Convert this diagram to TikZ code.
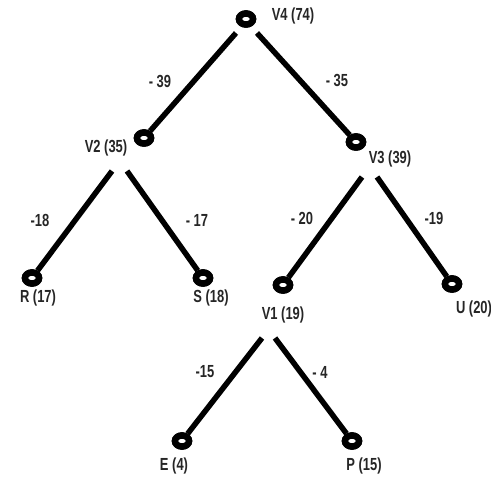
\documentclass[tikz,border=0pt]{standalone}
\usepackage{fontspec}
\setmainfont{Liberation Sans}[FakeStretch=0.74]
\usetikzlibrary{shapes.geometric}
\begin{document}
\begin{tikzpicture}[x=1pt,y=-1pt,
  vert/.style={ellipse,draw=black,line width=6.5pt,fill=white,minimum width=14pt,minimum height=11pt,inner sep=0pt},
  lbl/.style={font=\fontsize{17.5}{19}\selectfont\bfseries,text=black!85,inner sep=0pt},
  edge/.style={line width=5.5pt,black}]
\useasboundingbox (0,0) rectangle (491,484);
% vertices
\node[vert] (V4) at (246,19) {};
\node[vert] (V2) at (144,138) {};
\node[vert] (V3) at (356,142) {};
\node[vert] (R) at (32,278) {};
\node[vert] (S) at (203,278) {};
\node[vert] (V1) at (283,285) {};
\node[vert] (U) at (452,284) {};
\node[vert] (E) at (182,441) {};
\node[vert] (P) at (352,441) {};
% vertex labels
\node[lbl] (lV4) at (293,16) {V4 (74)};
\node[lbl] (lV2) at (106,148) {V2 (35)};
\node[lbl] (lV3) at (390,159) {V3 (39)};
\node[lbl] (lR) at (38,298) {R (17)};
\node[lbl] (lS) at (211,298) {S (18)};
\node[lbl] (lV1) at (283,315) {V1 (19)};
\node[lbl] (lU) at (474,309) {U (20)};
\node[lbl] (lE) at (174,466) {E (4)};
\node[lbl] (lP) at (364,466) {P (15)};
% edge start points
\coordinate (s4l) at (236,33);
\coordinate (s4r) at (257,33);
\coordinate (s2l) at (112,171);
\coordinate (s2r) at (127,171);
\coordinate (s3l) at (362,177);
\coordinate (s3r) at (377,177);
\coordinate (s1l) at (262,338);
\coordinate (s1r) at (275,338);
% edges
\draw[edge] (s4l) -- (V2);
\draw[edge] (s4r) -- (V3);
\draw[edge] (s2l) -- (R);
\draw[edge] (s2r) -- (S);
\draw[edge] (s3l) -- (V1);
\draw[edge] (s3r) -- (U);
\draw[edge] (s1l) -- (E);
\draw[edge] (s1r) -- (P);
% redraw vertices on top
\foreach \n in {V4,V2,V3,R,S,V1,U,E,P}{\node[vert] at (\n) {};}
% edge labels
\node[lbl] (w1) at (160,81) {- 39};
\node[lbl] (w2) at (337,80) {- 35};
\node[lbl] (w3) at (40,220) {-18};
\node[lbl] (w4) at (197,220) {- 17};
\node[lbl] (w5) at (302,218) {- 20};
\node[lbl] (w6) at (434,218) {-19};
\node[lbl] (w7) at (205,372) {-15};
\node[lbl] (w8) at (320,372) {- 4};
\end{tikzpicture}
\end{document}
